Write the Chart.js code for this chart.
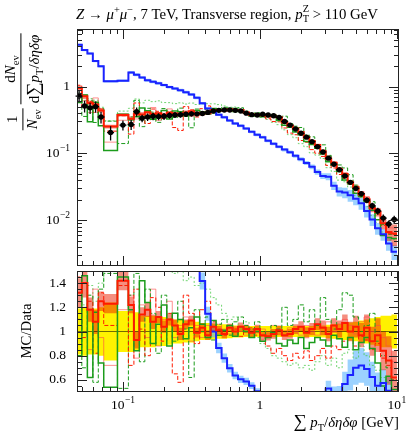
<!DOCTYPE html>
<html>
<head>
<meta charset="utf-8">
<script src="https://cdn.jsdelivr.net/npm/chart.js@4.4.1/dist/chart.umd.min.js"></script>
<style>
  body { margin: 0; width: 415px; height: 433px; position: relative; overflow: hidden; background: #fff;
         font-family: "Liberation Serif", "DejaVu Serif", serif; color: #000; }
  canvas { position: absolute; left: 0; }
  #main { top: 0; }
  #ratio { top: 268px; }
  .lbl { position: absolute; white-space: nowrap; line-height: 1; }
  sup, sub { font-size: 0.7em; line-height: 0; }
  .ss { display: inline-block; vertical-align: -0.32em; font-size: 0.7em; line-height: 1; }
  .ss > span { display: block; }
  .frac { display: inline-flex; flex-direction: column; vertical-align: middle; text-align: center; margin: 0 2px; }
  .frac > span { display: block; line-height: 1.25; padding: 0 1px; }
  .frac > span + span { border-top: 1px solid #000; }
  .big { font-size: 1.25em; }
</style>
</head>
<body>
<canvas id="main" width="415" height="270"></canvas>
<canvas id="ratio" width="415" height="165"></canvas>

<div class="lbl" style="left:76px;top:4px;font-size:14.8px"><i>Z</i> → <i>μ</i><sup>+</sup><i>μ</i><sup>−</sup>, 7 TeV, Transverse region, <i>p</i><span class="ss"><span>Z</span><span>T</span></span> &gt; 110 GeV</div>

<div class="lbl" style="left:23px;top:82px;font-size:15px;transform:translate(-50%,-50%) rotate(-90deg)">
  <span class="frac"><span>1</span><span><i>N</i><sub>ev</sub></span></span><span class="frac"><span>d<i>N</i><sub>ev</sub></span><span>d<span class="big">∑</span><i>p</i><sub>T</sub>/<i>δηδφ</i></span></span>
</div>

<div class="lbl" style="left:26px;top:331px;font-size:14.8px;transform:translate(-50%,-50%) rotate(-90deg)">MC/Data</div>

<div class="lbl" style="right:16px;top:412px;font-size:14.8px"><span class="big">∑</span> <i>p</i><sub>T</sub>/<i>δηδφ</i> [GeV]</div>

<script>
// bin edges of the sum-pT density histogram [GeV]
const edges = [0.0457, 0.0501, 0.0550, 0.0603, 0.0661, 0.0724, 0.0912, 0.1096, 0.1202, 0.1318,
  0.1445, 0.1585, 0.1738, 0.1905, 0.2089, 0.2291, 0.2512, 0.2754, 0.3020, 0.3311,
  0.3631, 0.3981, 0.4365, 0.4786, 0.5248, 0.5754, 0.6310, 0.6918, 0.7586, 0.8318,
  0.9120, 1.000, 1.096, 1.202, 1.318, 1.445, 1.585, 1.738, 1.905, 2.089,
  2.291, 2.512, 2.754, 3.020, 3.311, 3.631, 3.981, 4.365, 4.786, 5.248,
  5.754, 6.310, 6.918, 7.586, 8.318, 9.120, 10.00];

// ATLAS data
const data = [0.72, 0.51, 0.48, 0.50, 0.35, 0.205, 0.265, 0.27, 0.42, 0.335,
  0.35, 0.36, 0.355, 0.36, 0.37, 0.375, 0.38, 0.385, 0.39, 0.39,
  0.395, 0.41, 0.43, 0.44, 0.445, 0.445, 0.44, 0.43, 0.40, 0.38,
  0.375, 0.385, 0.375, 0.365, 0.345, 0.30, 0.265, 0.232, 0.20, 0.175,
  0.15, 0.126, 0.105, 0.085, 0.069, 0.057, 0.046, 0.037, 0.030, 0.025,
  0.020, 0.0165, 0.0138, 0.0108, 0.0088, 0.0103];
// relative uncertainty of data (yellow band)
const dataErr = [0.19, 0.20, 0.19, 0.19, 0.20, 0.24, 0.17, 0.17, 0.16, 0.13,
  0.13, 0.13, 0.12, 0.12, 0.11, 0.10, 0.10, 0.09, 0.09, 0.08,
  0.07, 0.07, 0.065, 0.06, 0.06, 0.055, 0.05, 0.05, 0.045, 0.045,
  0.045, 0.045, 0.045, 0.045, 0.045, 0.045, 0.045, 0.045, 0.045, 0.045,
  0.045, 0.045, 0.05, 0.055, 0.06, 0.065, 0.07, 0.075, 0.08, 0.09,
  0.10, 0.11, 0.12, 0.13, 0.13, 0.14];

// blue generator (absolute values) and its relative band
const blueMain = [4.2, 3.5, 3.1, 2.4, 2.0, 1.2, 1.22, 1.62, 1.5, 1.36,
  1.24, 1.18, 1.12, 1.05, 0.98, 0.93, 0.88, 0.82, 0.76, 0.68,
  0.56, 0.47, 0.43, 0.38, 0.347, 0.31, 0.28, 0.26, 0.235, 0.21,
  0.19, 0.175, 0.155, 0.14, 0.126, 0.114, 0.104, 0.092, 0.082, 0.072,
  0.063, 0.053, 0.046, 0.045, 0.033, 0.027, 0.026, 0.0237, 0.021, 0.018,
  0.0138, 0.0103, 0.0076, 0.0062, 0.0045, 0.0034];
const blueErr = [0.04, 0.04, 0.04, 0.04, 0.04, 0.04, 0.04, 0.05, 0.05, 0.05,
  0.05, 0.05, 0.05, 0.05, 0.05, 0.05, 0.05, 0.05, 0.05, 0.05,
  0.05, 0.05, 0.05, 0.05, 0.05, 0.05, 0.05, 0.05, 0.05, 0.05,
  0.05, 0.05, 0.05, 0.05, 0.05, 0.06, 0.06, 0.06, 0.07, 0.07,
  0.08, 0.09, 0.10, 0.12, 0.14, 0.16, 0.18, 0.20, 0.20, 0.20,
  0.20, 0.20, 0.20, 0.20, 0.22, 0.25];

// other generators, as MC/Data
const redRatio = [1.32, 1.40, 1.18, 1.08, 1.25, 1.23, 1.42, 1.22, 0.93, 1.14,
  1.18, 1.08, 1.12, 1.04, 1.10, 1.05, 0.98, 1.06, 1.09, 0.99,
  1.03, 0.97, 1.04, 1.01, 0.98, 1.03, 1.00, 1.04, 1.02, 0.99,
  1.02, 0.97, 0.96, 0.98, 1.01, 0.97, 0.98, 1.02, 1.04, 0.99,
  1.02, 1.06, 1.03, 0.98, 1.05, 1.02, 1.07, 1.00, 1.04, 0.97,
  1.03, 0.92, 0.97, 0.84, 0.76, 0.62];
const redErr = [0.12, 0.12, 0.10, 0.10, 0.08, 0.08, 0.08, 0.07, 0.07, 0.06,
  0.06, 0.06, 0.05, 0.05, 0.05, 0.05, 0.05, 0.04, 0.04, 0.04,
  0.04, 0.04, 0.035, 0.035, 0.035, 0.035, 0.035, 0.035, 0.035, 0.035,
  0.035, 0.035, 0.035, 0.04, 0.04, 0.04, 0.04, 0.04, 0.045, 0.045,
  0.05, 0.05, 0.06, 0.06, 0.06, 0.07, 0.07, 0.08, 0.09, 0.10,
  0.11, 0.12, 0.14, 0.16, 0.20, 0.22];
const greenRatio = [0.80, 1.46, 0.62, 1.16, 0.74, 0.54, 1.45, 1.18, 0.84, 1.42,
  1.24, 0.90, 1.06, 1.22, 0.88, 1.15, 1.10, 0.94, 1.03, 1.12,
  1.06, 0.95, 1.09, 0.97, 1.01, 1.05, 0.96, 1.04, 1.00, 0.95,
  1.00, 0.92, 0.95, 0.99, 0.90, 0.88, 0.93, 0.90, 0.95, 0.86,
  0.91, 0.95, 0.93, 0.88, 0.97, 0.94, 0.87, 0.95, 0.85, 0.91,
  0.95, 0.86, 0.74, 0.55, 0.63, 0.52];
const greenDashRatio = [1.10, 0.70, 1.30, 0.58, 1.35, 1.48, 0.53, 1.30, 1.48, 0.75,
  1.35, 1.15, 0.82, 1.30, 1.10, 0.92, 1.25, 1.02, 0.62, 1.18,
  1.00, 1.12, 0.93, 1.06, 1.10, 0.97, 1.08, 1.12, 1.05, 1.02,
  1.08, 1.00, 0.96, 1.05, 1.02, 1.20, 1.05, 1.10, 1.22, 1.08,
  1.18, 1.05, 1.28, 1.10, 1.02, 1.18, 1.32, 1.30, 1.12, 1.00,
  1.05, 1.15, 0.92, 0.80, 0.70, 0.60];
const greenLightRatio = [1.30, 1.22, 1.38, 1.25, 1.40, 1.50, 1.62, 1.75, 1.55, 1.70,
  1.78, 1.65, 1.72, 1.60, 1.55, 1.48, 1.50, 1.42, 1.45, 1.38,
  1.40, 1.35, 1.28, 1.22, 1.15, 1.10, 1.12, 1.02, 1.08, 0.98,
  0.95, 0.90, 0.86, 0.80, 0.78, 0.75, 0.72, 0.74, 0.70, 0.72,
  0.68, 0.75, 0.80, 0.72, 0.78, 0.70, 0.82, 0.85, 0.78, 0.88,
  0.80, 0.72, 0.68, 0.62, 0.58, 0.50];
const redDashRatio = [1.45, 0.95, 1.25, 0.82, 1.32, 1.05, 1.38, 0.72, 1.35, 1.02,
  0.80, 1.28, 1.20, 0.92, 1.15, 0.65, 0.58, 1.30, 1.15, 0.90,
  1.18, 1.25, 1.08, 1.02, 0.97, 1.05, 1.02, 0.96, 1.00, 1.03,
  0.97, 0.93, 0.88, 0.82, 0.86, 0.80, 0.76, 0.82, 0.78, 0.84,
  0.76, 0.80, 0.86, 0.78, 0.88, 0.85, 0.92, 0.95, 0.88, 0.96,
  0.93, 0.85, 0.90, 0.78, 0.72, 0.60];
const redLightRatio = [1.05, 1.20, 0.85, 1.35, 0.95, 0.72, 1.18, 1.30, 0.78, 1.22,
  0.95, 1.35, 0.88, 1.10, 1.25, 0.95, 1.05, 1.12, 0.92, 1.05,
  0.95, 1.05, 1.00, 1.06, 1.02, 0.98, 1.04, 1.00, 0.97, 1.01,
  0.99, 1.02, 0.98, 1.05, 1.02, 0.96, 1.03, 1.00, 0.97, 1.05,
  1.00, 0.97, 1.04, 1.08, 1.00, 1.06, 1.10, 1.05, 0.98, 1.08,
  1.12, 1.00, 1.05, 0.95, 0.88, 0.75];

const X_MIN = 0.0462, X_MAX = 10.35;
const FONT = '"Liberation Serif", "DejaVu Serif", serif';

const mainYLabels = [{ v: 1, t: '1' }, { v: 0.1, t: '10', s: '−1' }, { v: 0.01, t: '10', s: '−2' }];
const ratioYLabels = [1.4, 1.2, 1, 0.8, 0.6].map(v => ({ v, t: String(v) }));
const ratioXLabels = [{ v: 0.1, t: '10', s: '−1' }, { v: 1, t: '1' }, { v: 10, t: '10', s: '1' }];

// helpers
const mul = (a, b) => a.map((v, i) => v * b[i]);
const div = (a, b) => a.map((v, i) => v / b[i]);
const centers = data.map((_, i) => Math.sqrt(edges[i] * edges[i + 1]));

function stepPts(vals) {
  const pts = vals.map((v, i) => ({ x: edges[i], y: v }));
  pts.push({ x: edges[vals.length], y: vals[vals.length - 1] });
  return pts;
}
function line(vals, color, width, dash, order) {
  return { data: stepPts(vals), borderColor: color, borderWidth: width, borderDash: dash || [],
    stepped: true, pointRadius: 0, fill: false, order, clip: 0 };
}
function addBand(list, lo, hi, color, order) {
  list.push({ data: stepPts(lo), borderColor: 'transparent', borderWidth: 0, stepped: true,
    pointRadius: 0, fill: false, order: order + 1, clip: 0 });
  list.push({ data: stepPts(hi), borderColor: 'transparent', borderWidth: 0, stepped: true,
    pointRadius: 0, fill: list.length - 1, backgroundColor: color, order, clip: 0 });
}
function logTicks(lo, hi) {
  const out = [];
  for (let d = -4; d <= 2; d++) for (let k = 1; k <= 9; k++) {
    const v = k * Math.pow(10, d);
    if (v >= lo && v <= hi) out.push({ v, major: k === 1 });
  }
  return out;
}
function linTicks(lo, hi, step, majorStep) {
  const out = [];
  for (let v = lo; v <= hi + 1e-9; v += step) {
    const r = Math.round(v * 100) / 100;
    out.push({ v: r, major: Math.abs(r / majorStep - Math.round(r / majorStep)) < 1e-6 });
  }
  return out;
}

function drawLabel(ctx, l, x, y, align) {
  ctx.font = '13.5px ' + FONT;
  const w1 = ctx.measureText(l.t).width;
  ctx.font = '9.5px ' + FONT;
  const w2 = l.s ? ctx.measureText(l.s).width + 0.5 : 0;
  const left = align === 'right' ? x - w1 - w2 : x - (w1 + w2) / 2;
  ctx.textBaseline = 'middle';
  ctx.textAlign = 'left';
  ctx.font = '13.5px ' + FONT;
  ctx.fillText(l.t, left, y);
  if (l.s) {
    ctx.font = '9.5px ' + FONT;
    ctx.fillText(l.s, left + w1 + 0.5, y - 5);
  }
}

// frame, inward ticks and tick labels
const framePlugin = {
  id: 'frame',
  afterDraw(chart, args, o) {
    const { ctx, chartArea: a } = chart;
    const sx = chart.scales.x, sy = chart.scales.y;
    ctx.save();
    ctx.strokeStyle = '#222';
    ctx.lineWidth = 1;
    ctx.beginPath();
    o.xTicks.forEach(t => {
      const p = Math.round(sx.getPixelForValue(t.v)) + 0.5;
      if (p < a.left || p > a.right) return;
      const L = t.major ? 10 : 5;
      ctx.moveTo(p, a.top); ctx.lineTo(p, a.top + L);
      ctx.moveTo(p, a.bottom); ctx.lineTo(p, a.bottom - L);
    });
    o.yTicks.forEach(t => {
      const p = Math.round(sy.getPixelForValue(t.v)) + 0.5;
      if (p < a.top || p > a.bottom) return;
      const L = t.major ? 10 : 5;
      ctx.moveTo(a.left, p); ctx.lineTo(a.left + L, p);
      ctx.moveTo(a.right, p); ctx.lineTo(a.right - L, p);
    });
    ctx.stroke();
    ctx.strokeRect(Math.round(a.left) + 0.5, Math.round(a.top) + 0.5,
      Math.round(a.right - a.left) - 1, Math.round(a.bottom - a.top) - 1);
    ctx.fillStyle = '#000';
    o.yLabels.forEach(l => drawLabel(ctx, l, o.yLabelRight, sy.getPixelForValue(l.v), 'right'));
    (o.xLabels || []).forEach(l => drawLabel(ctx, l, sx.getPixelForValue(l.v), a.bottom + 13, 'center'));
    ctx.restore();
  }
};

// vertical + short horizontal error bars on the data points
const errorBars = {
  id: 'errorBars',
  afterDatasetsDraw(chart) {
    const { ctx } = chart;
    const sx = chart.scales.x, sy = chart.scales.y;
    ctx.save();
    ctx.strokeStyle = '#000';
    ctx.lineWidth = 1.3;
    ctx.beginPath();
    data.forEach((v, i) => {
      const px = sx.getPixelForValue(centers[i]);
      const py = sy.getPixelForValue(v);
      ctx.moveTo(px, sy.getPixelForValue(v * (1 + dataErr[i])));
      ctx.lineTo(px, sy.getPixelForValue(v * (1 - dataErr[i])));
      ctx.moveTo(px - 3.5, py);
      ctx.lineTo(px + 3.5, py);
    });
    ctx.stroke();
    ctx.restore();
  }
};

const RED = '#ff1a00', GREEN = '#1c9c1c', BLUE = '#1a22ff';
const RED_BAND = 'rgba(235,30,0,0.5)', BLUE_BAND = 'rgba(90,180,255,0.6)';
const GREEN_LIGHT = 'rgba(70,200,70,0.75)', RED_LIGHT = 'rgba(255,70,70,0.6)';

// ---------- main panel ----------
const mainSets = [];
addBand(mainSets, mul(data, redRatio.map((r, i) => r - redErr[i])),
  mul(data, redRatio.map((r, i) => r + redErr[i])), RED_BAND, 10);
addBand(mainSets, blueMain.map((v, i) => v * (1 - blueErr[i])),
  blueMain.map((v, i) => v * (1 + blueErr[i])), BLUE_BAND, 10);
mainSets.push(line(mul(data, redLightRatio), RED_LIGHT, 1, [], 5));
mainSets.push(line(mul(data, greenLightRatio), GREEN_LIGHT, 1, [2, 2], 5));
mainSets.push(line(mul(data, redDashRatio), RED, 1, [4, 2], 4));
mainSets.push(line(mul(data, greenDashRatio), GREEN, 1, [4, 2], 4));
mainSets.push(line(mul(data, greenRatio), GREEN, 1.5, [], 3));
mainSets.push(line(blueMain, BLUE, 2, [], 2));
mainSets.push(line(mul(data, redRatio), RED, 2, [], 1));
mainSets.push({ data: centers.map((c, i) => ({ x: c, y: data[i] })), showLine: false,
  pointRadius: 2.7, pointBackgroundColor: '#000', pointBorderWidth: 0, order: 0 });

new Chart(document.getElementById('main'), {
  type: 'line',
  data: { datasets: mainSets },
  plugins: [errorBars, framePlugin],
  options: {
    responsive: false, animation: false, devicePixelRatio: 1,
    layout: { padding: { left: 77, right: 16, top: 29, bottom: 2 } },
    scales: {
      x: { type: 'logarithmic', min: X_MIN, max: X_MAX, bounds: 'data', display: false },
      y: { type: 'logarithmic', min: 0.00208, max: 7.23, bounds: 'data', display: false }
    },
    plugins: {
      legend: { display: false }, tooltip: { enabled: false },
      frame: { xTicks: logTicks(X_MIN, X_MAX), yTicks: logTicks(0.00208, 7.23),
        yLabels: mainYLabels, yLabelRight: 70 }
    }
  }
});

// ---------- ratio panel ----------
const ratioSets = [];
addBand(ratioSets, dataErr.map(e => 1 - e), dataErr.map(e => 1 + e), '#fff200', 20);
addBand(ratioSets, redRatio.map((r, i) => r - redErr[i]), redRatio.map((r, i) => r + redErr[i]), RED_BAND, 10);
addBand(ratioSets, div(blueMain.map((v, i) => v * (1 - blueErr[i])), data),
  div(blueMain.map((v, i) => v * (1 + blueErr[i])), data), BLUE_BAND, 10);
ratioSets.push({ data: [{ x: X_MIN, y: 1 }, { x: X_MAX, y: 1 }], borderColor: 'rgba(0,0,0,0.55)',
  borderWidth: 1, pointRadius: 0, fill: false, order: 6, clip: 0 });
ratioSets.push(line(redLightRatio, RED_LIGHT, 1, [], 5));
ratioSets.push(line(greenLightRatio, GREEN_LIGHT, 1, [2, 2], 5));
ratioSets.push(line(redDashRatio, RED, 1, [4, 2], 4));
ratioSets.push(line(greenDashRatio, GREEN, 1, [4, 2], 4));
ratioSets.push(line(greenRatio, GREEN, 1.5, [], 3));
ratioSets.push(line(div(blueMain, data), BLUE, 2, [], 2));
ratioSets.push(line(redRatio, RED, 2, [], 1));

new Chart(document.getElementById('ratio'), {
  type: 'line',
  data: { datasets: ratioSets },
  plugins: [framePlugin],
  options: {
    responsive: false, animation: false, devicePixelRatio: 1,
    layout: { padding: { left: 77, right: 16, top: 3, bottom: 41 } },
    scales: {
      x: { type: 'logarithmic', min: X_MIN, max: X_MAX, bounds: 'data', display: false },
      y: { type: 'linear', min: 0.5, max: 1.5, bounds: 'data', display: false }
    },
    plugins: {
      legend: { display: false }, tooltip: { enabled: false },
      frame: { xTicks: logTicks(X_MIN, X_MAX), yTicks: linTicks(0.5, 1.5, 0.05, 0.2),
        yLabels: ratioYLabels, yLabelRight: 66, xLabels: ratioXLabels }
    }
  }
});
</script>
</body>
</html>
